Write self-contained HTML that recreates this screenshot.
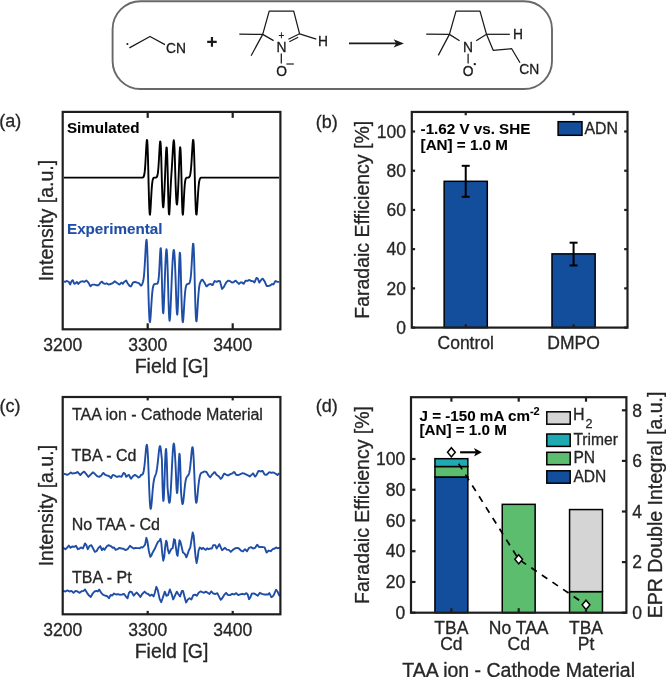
<!DOCTYPE html>
<html><head><meta charset="utf-8"><style>
html,body{margin:0;padding:0;background:#fff;overflow:hidden;}
svg{display:block;font-family:"Liberation Sans", sans-serif;will-change:transform;}
</style></head><body>
<svg width="666" height="677" viewBox="0 0 666 677">
<rect width="666" height="677" fill="#fff"/>
<rect x="112.6" y="1.2" width="439.4" height="87.8" rx="28" ry="28" fill="none" stroke="#68686c" stroke-width="1.9"/>
<circle cx="127.4" cy="44.0" r="1.05" fill="#1a1a1a"/>
<polyline points="129.40,47.90 150.00,36.50 165.00,44.60" fill="none" stroke="#1a1a1a" stroke-width="1.25" stroke-linejoin="round"/>
<text x="166.00" y="52.70" font-size="13.80" text-anchor="start" font-weight="normal" fill="#1a1a1a" stroke="#1a1a1a" stroke-width="0.30" >CN</text>
<path d="M207.2 41.8H216.7M211.95 36.9V46.7" stroke="#1a1a1a" stroke-width="2.2"/>
<polyline points="239.30,34.20 262.70,34.40 251.10,55.70" fill="none" stroke="#1a1a1a" stroke-width="1.25" stroke-linejoin="round"/>
<polyline points="273.60,40.60 262.70,34.40 269.20,11.20 293.70,11.20 299.60,33.80 316.30,39.20" fill="none" stroke="#1a1a1a" stroke-width="1.25" stroke-linejoin="round"/>
<polyline points="288.40,39.20 299.60,33.80" fill="none" stroke="#1a1a1a" stroke-width="1.25" stroke-linejoin="round"/>
<polyline points="289.30,41.80 298.20,37.30" fill="none" stroke="#1a1a1a" stroke-width="1.25" stroke-linejoin="round"/>
<text x="281.40" y="52.00" font-size="13.80" text-anchor="middle" font-weight="normal" fill="#1a1a1a" stroke="#1a1a1a" stroke-width="0.30" >N</text>
<text x="281.40" y="39.00" font-size="10.00" text-anchor="middle" font-weight="normal" fill="#1a1a1a" stroke="#1a1a1a" stroke-width="0.30" >+</text>
<polyline points="281.30,53.50 281.30,63.40" fill="none" stroke="#1a1a1a" stroke-width="1.25" stroke-linejoin="round"/>
<text x="281.60" y="76.00" font-size="13.80" text-anchor="middle" font-weight="normal" fill="#1a1a1a" stroke="#1a1a1a" stroke-width="0.30" >O</text>
<path d="M286.4 64.0H293.8" stroke="#1a1a1a" stroke-width="1.2"/>
<text x="318.00" y="45.80" font-size="13.80" text-anchor="start" font-weight="normal" fill="#1a1a1a" stroke="#1a1a1a" stroke-width="0.30" >H</text>
<path d="M349 43.4H396" stroke="#1a1a1a" stroke-width="1.6"/>
<path d="M403.9 43.4L393.6 39.3L396.2 43.4L393.6 47.6Z" fill="#1a1a1a"/>
<polyline points="426.20,34.20 449.40,34.40 438.30,55.40" fill="none" stroke="#1a1a1a" stroke-width="1.25" stroke-linejoin="round"/>
<polyline points="459.60,40.80 449.40,34.40 456.00,11.20 480.00,11.20 486.50,34.30 476.20,40.80" fill="none" stroke="#1a1a1a" stroke-width="1.25" stroke-linejoin="round"/>
<polyline points="486.50,34.30 509.80,34.30" fill="none" stroke="#1a1a1a" stroke-width="1.25" stroke-linejoin="round"/>
<polyline points="486.50,34.30 493.20,50.30 511.70,48.70 520.00,62.80" fill="none" stroke="#1a1a1a" stroke-width="1.25" stroke-linejoin="round"/>
<text x="468.00" y="52.10" font-size="13.80" text-anchor="middle" font-weight="normal" fill="#1a1a1a" stroke="#1a1a1a" stroke-width="0.30" >N</text>
<polyline points="468.10,53.70 468.10,63.60" fill="none" stroke="#1a1a1a" stroke-width="1.25" stroke-linejoin="round"/>
<text x="468.10" y="76.10" font-size="13.80" text-anchor="middle" font-weight="normal" fill="#1a1a1a" stroke="#1a1a1a" stroke-width="0.30" >O</text>
<circle cx="474.8" cy="64.1" r="1.2" fill="#1a1a1a"/>
<text x="513.00" y="39.40" font-size="13.80" text-anchor="start" font-weight="normal" fill="#1a1a1a" stroke="#1a1a1a" stroke-width="0.30" >H</text>
<text x="519.30" y="73.60" font-size="13.80" text-anchor="start" font-weight="normal" fill="#1a1a1a" stroke="#1a1a1a" stroke-width="0.30" >CN</text>
<text x="-0.80" y="127.30" font-size="18.00" text-anchor="start" font-weight="normal" fill="#262626" stroke="#262626" stroke-width="0.30" >(a)</text>
<text x="315.80" y="127.50" font-size="18.00" text-anchor="start" font-weight="normal" fill="#262626" stroke="#262626" stroke-width="0.30" >(b)</text>
<text x="-0.60" y="412.30" font-size="18.00" text-anchor="start" font-weight="normal" fill="#262626" stroke="#262626" stroke-width="0.30" >(c)</text>
<text x="315.80" y="412.30" font-size="18.00" text-anchor="start" font-weight="normal" fill="#262626" stroke="#262626" stroke-width="0.30" >(d)</text>
<path d="M63.90 177.60L64.25 177.60L64.60 177.60L64.95 177.60L65.30 177.60L65.65 177.60L66.00 177.60L66.35 177.60L66.70 177.60L67.05 177.60L67.40 177.60L67.75 177.60L68.10 177.60L68.45 177.60L68.80 177.60L69.15 177.60L69.50 177.60L69.85 177.60L70.20 177.60L70.55 177.60L70.90 177.60L71.25 177.60L71.60 177.60L71.95 177.60L72.30 177.60L72.65 177.60L73.00 177.60L73.35 177.60L73.70 177.60L74.05 177.60L74.40 177.60L74.75 177.60L75.10 177.60L75.45 177.60L75.80 177.60L76.15 177.60L76.50 177.60L76.85 177.60L77.20 177.60L77.55 177.60L77.90 177.60L78.25 177.60L78.60 177.60L78.95 177.60L79.30 177.60L79.65 177.60L80.00 177.60L80.35 177.60L80.70 177.60L81.05 177.60L81.40 177.60L81.75 177.60L82.10 177.60L82.45 177.60L82.80 177.60L83.15 177.60L83.50 177.60L83.85 177.60L84.20 177.60L84.55 177.60L84.90 177.60L85.25 177.60L85.60 177.60L85.95 177.60L86.30 177.60L86.65 177.60L87.00 177.60L87.35 177.60L87.70 177.60L88.05 177.60L88.40 177.60L88.75 177.60L89.10 177.60L89.45 177.60L89.80 177.60L90.15 177.60L90.50 177.60L90.85 177.60L91.20 177.60L91.55 177.60L91.90 177.60L92.25 177.60L92.60 177.60L92.95 177.60L93.30 177.60L93.65 177.60L94.00 177.60L94.35 177.60L94.70 177.60L95.05 177.60L95.40 177.60L95.75 177.60L96.10 177.60L96.45 177.60L96.80 177.60L97.15 177.60L97.50 177.60L97.85 177.60L98.20 177.60L98.55 177.60L98.90 177.60L99.25 177.60L99.60 177.60L99.95 177.60L100.30 177.60L100.65 177.60L101.00 177.60L101.35 177.60L101.70 177.60L102.05 177.60L102.40 177.60L102.75 177.60L103.10 177.60L103.45 177.60L103.80 177.60L104.15 177.60L104.50 177.60L104.85 177.60L105.20 177.60L105.55 177.60L105.90 177.60L106.25 177.60L106.60 177.60L106.95 177.60L107.30 177.60L107.65 177.60L108.00 177.60L108.35 177.60L108.70 177.60L109.05 177.60L109.40 177.60L109.75 177.60L110.10 177.60L110.45 177.60L110.80 177.60L111.15 177.60L111.50 177.60L111.85 177.60L112.20 177.60L112.55 177.60L112.90 177.60L113.25 177.60L113.60 177.60L113.95 177.60L114.30 177.60L114.65 177.60L115.00 177.60L115.35 177.60L115.70 177.60L116.05 177.60L116.40 177.60L116.75 177.60L117.10 177.60L117.45 177.60L117.80 177.60L118.15 177.60L118.50 177.60L118.85 177.60L119.20 177.60L119.55 177.60L119.90 177.60L120.25 177.60L120.60 177.60L120.95 177.60L121.30 177.60L121.65 177.60L122.00 177.60L122.35 177.60L122.70 177.60L123.05 177.60L123.40 177.60L123.75 177.60L124.10 177.60L124.45 177.60L124.80 177.60L125.15 177.60L125.50 177.60L125.85 177.60L126.20 177.60L126.55 177.60L126.90 177.60L127.25 177.60L127.60 177.60L127.95 177.60L128.30 177.60L128.65 177.60L129.00 177.60L129.35 177.60L129.70 177.60L130.05 177.60L130.40 177.60L130.75 177.60L131.10 177.60L131.45 177.60L131.80 177.60L132.15 177.60L132.50 177.60L132.85 177.60L133.20 177.60L133.55 177.60L133.90 177.60L134.25 177.60L134.60 177.60L134.95 177.60L135.30 177.60L135.65 177.60L136.00 177.60L136.35 177.60L136.70 177.60L137.05 177.60L137.40 177.60L137.75 177.60L138.10 177.60L138.45 177.60L138.80 177.60L139.15 177.60L139.50 177.60L139.85 177.60L140.20 177.60L140.55 177.60L140.90 177.60L141.25 177.60L141.60 177.60L141.95 177.59L142.30 177.57L142.65 177.52L143.00 177.40L143.35 177.15L143.70 176.64L144.05 175.70L144.40 174.07L144.75 171.44L145.10 167.57L145.45 162.36L145.80 156.06L146.15 149.36L146.50 143.50L146.85 139.99L147.20 140.35L147.55 145.52L147.90 155.48L148.25 169.04L148.60 183.93L148.95 197.59L149.30 207.96L149.65 213.74L150.00 214.73L150.35 211.75L150.70 206.22L151.05 199.68L151.40 193.38L151.75 188.09L152.10 184.11L152.45 181.37L152.80 179.65L153.15 178.64L153.50 178.10L153.85 177.82L154.20 177.69L154.55 177.64L154.90 177.61L155.25 177.59L155.60 177.57L155.95 177.51L156.30 177.39L156.65 177.14L157.00 176.63L157.35 175.70L157.70 174.09L158.05 171.53L158.40 167.78L158.75 162.77L159.10 156.74L159.45 150.36L159.80 144.79L160.15 141.47L160.50 141.81L160.85 146.70L161.20 156.12L161.55 168.99L161.90 182.29L162.25 193.31L162.60 201.76L162.95 206.52L163.30 207.35L163.65 204.72L164.00 199.51L164.35 192.65L164.70 184.77L165.05 176.25L165.40 167.41L165.75 158.84L166.10 151.65L166.45 147.46L166.80 147.87L167.15 153.75L167.50 164.56L167.85 178.39L168.20 194.63L168.55 207.22L168.90 213.92L169.25 214.39L169.60 209.93L169.95 202.67L170.30 194.66L170.65 187.24L171.00 180.85L171.35 175.28L171.70 169.97L172.05 164.42L172.40 158.41L172.75 152.16L173.10 146.34L173.45 141.99L173.80 140.30L174.15 142.25L174.50 148.31L174.85 158.19L175.20 170.78L175.55 182.58L175.90 191.85L176.25 199.09L176.60 203.43L176.95 204.57L177.30 202.68L177.65 198.27L178.00 191.92L178.35 184.14L178.70 175.41L179.05 166.28L179.40 157.63L179.75 150.76L180.10 147.20L180.45 148.32L180.80 154.65L181.15 165.49L181.50 179.08L181.85 194.51L182.20 206.65L182.55 213.52L182.90 214.69L183.25 211.21L183.60 204.91L183.95 197.75L184.30 191.20L184.65 186.03L185.00 182.42L185.35 180.14L185.70 178.84L186.05 178.16L186.40 177.84L186.75 177.69L187.10 177.63L187.45 177.60L187.80 177.58L188.15 177.55L188.50 177.49L188.85 177.37L189.20 177.12L189.55 176.66L189.90 175.84L190.25 174.48L190.60 172.36L190.95 169.27L191.30 165.08L191.65 159.85L192.00 153.90L192.35 147.90L192.70 142.85L193.05 139.92L193.40 140.21L193.75 144.45L194.10 152.69L194.45 164.22L194.80 177.60L195.15 190.74L195.50 202.05L195.85 210.14L196.20 214.30L196.55 214.58L196.90 211.71L197.25 206.75L197.60 200.87L197.95 195.03L198.30 189.89L198.65 185.78L199.00 182.74L199.35 180.66L199.70 179.33L200.05 178.53L200.40 178.07L200.75 177.83L201.10 177.70L201.45 177.65L201.80 177.62L202.15 177.61L202.50 177.60L202.85 177.60L203.20 177.60L203.55 177.60L203.90 177.60L204.25 177.60L204.60 177.60L204.95 177.60L205.30 177.60L205.65 177.60L206.00 177.60L206.35 177.60L206.70 177.60L207.05 177.60L207.40 177.60L207.75 177.60L208.10 177.60L208.45 177.60L208.80 177.60L209.15 177.60L209.50 177.60L209.85 177.60L210.20 177.60L210.55 177.60L210.90 177.60L211.25 177.60L211.60 177.60L211.95 177.60L212.30 177.60L212.65 177.60L213.00 177.60L213.35 177.60L213.70 177.60L214.05 177.60L214.40 177.60L214.75 177.60L215.10 177.60L215.45 177.60L215.80 177.60L216.15 177.60L216.50 177.60L216.85 177.60L217.20 177.60L217.55 177.60L217.90 177.60L218.25 177.60L218.60 177.60L218.95 177.60L219.30 177.60L219.65 177.60L220.00 177.60L220.35 177.60L220.70 177.60L221.05 177.60L221.40 177.60L221.75 177.60L222.10 177.60L222.45 177.60L222.80 177.60L223.15 177.60L223.50 177.60L223.85 177.60L224.20 177.60L224.55 177.60L224.90 177.60L225.25 177.60L225.60 177.60L225.95 177.60L226.30 177.60L226.65 177.60L227.00 177.60L227.35 177.60L227.70 177.60L228.05 177.60L228.40 177.60L228.75 177.60L229.10 177.60L229.45 177.60L229.80 177.60L230.15 177.60L230.50 177.60L230.85 177.60L231.20 177.60L231.55 177.60L231.90 177.60L232.25 177.60L232.60 177.60L232.95 177.60L233.30 177.60L233.65 177.60L234.00 177.60L234.35 177.60L234.70 177.60L235.05 177.60L235.40 177.60L235.75 177.60L236.10 177.60L236.45 177.60L236.80 177.60L237.15 177.60L237.50 177.60L237.85 177.60L238.20 177.60L238.55 177.60L238.90 177.60L239.25 177.60L239.60 177.60L239.95 177.60L240.30 177.60L240.65 177.60L241.00 177.60L241.35 177.60L241.70 177.60L242.05 177.60L242.40 177.60L242.75 177.60L243.10 177.60L243.45 177.60L243.80 177.60L244.15 177.60L244.50 177.60L244.85 177.60L245.20 177.60L245.55 177.60L245.90 177.60L246.25 177.60L246.60 177.60L246.95 177.60L247.30 177.60L247.65 177.60L248.00 177.60L248.35 177.60L248.70 177.60L249.05 177.60L249.40 177.60L249.75 177.60L250.10 177.60L250.45 177.60L250.80 177.60L251.15 177.60L251.50 177.60L251.85 177.60L252.20 177.60L252.55 177.60L252.90 177.60L253.25 177.60L253.60 177.60L253.95 177.60L254.30 177.60L254.65 177.60L255.00 177.60L255.35 177.60L255.70 177.60L256.05 177.60L256.40 177.60L256.75 177.60L257.10 177.60L257.45 177.60L257.80 177.60L258.15 177.60L258.50 177.60L258.85 177.60L259.20 177.60L259.55 177.60L259.90 177.60L260.25 177.60L260.60 177.60L260.95 177.60L261.30 177.60L261.65 177.60L262.00 177.60L262.35 177.60L262.70 177.60L263.05 177.60L263.40 177.60L263.75 177.60L264.10 177.60L264.45 177.60L264.80 177.60L265.15 177.60L265.50 177.60L265.85 177.60L266.20 177.60L266.55 177.60L266.90 177.60L267.25 177.60L267.60 177.60L267.95 177.60L268.30 177.60L268.65 177.60L269.00 177.60L269.35 177.60L269.70 177.60L270.05 177.60L270.40 177.60L270.75 177.60L271.10 177.60L271.45 177.60L271.80 177.60L272.15 177.60L272.50 177.60L272.85 177.60L273.20 177.60L273.55 177.60L273.90 177.60L274.25 177.60L274.60 177.60L274.95 177.60L275.30 177.60L275.65 177.60L276.00 177.60L276.35 177.60L276.70 177.60L277.05 177.60L277.40 177.60L277.75 177.60L278.10 177.60L278.45 177.60L278.80 177.60L279.15 177.60" fill="none" stroke="#000" stroke-width="1.9" stroke-linejoin="round"/>
<text x="66.90" y="133.20" font-size="15.20" text-anchor="start" font-weight="bold" fill="#000" stroke="#000" stroke-width="0.10" >Simulated</text>
<path d="M63.90 281.39L64.25 281.51L64.60 281.62L64.95 281.74L65.30 281.86L65.65 281.72L66.00 281.48L66.35 281.23L66.70 280.99L67.05 281.08L67.40 281.25L67.75 281.41L68.10 281.57L68.45 281.74L68.80 281.92L69.15 282.62L69.50 283.32L69.85 284.02L70.20 284.43L70.55 283.56L70.90 282.68L71.25 281.81L71.60 281.13L71.95 280.85L72.30 280.57L72.65 280.29L73.00 280.59L73.35 281.57L73.70 282.55L74.05 283.53L74.40 283.81L74.75 283.64L75.10 283.46L75.45 283.29L75.80 282.98L76.15 282.63L76.50 282.28L76.85 281.93L77.20 282.35L77.55 282.88L77.90 283.40L78.25 283.91L78.60 283.56L78.95 283.21L79.30 282.86L79.65 282.51L80.00 282.16L80.35 281.87L80.70 281.75L81.05 281.63L81.40 281.52L81.75 281.40L82.10 281.28L82.45 281.27L82.80 281.38L83.15 281.50L83.50 281.62L83.85 281.73L84.20 281.85L84.55 281.74L84.90 281.51L85.25 281.27L85.60 281.04L85.95 280.81L86.30 280.57L86.65 280.84L87.00 281.19L87.35 281.54L87.70 281.89L88.05 282.24L88.40 282.61L88.75 283.26L89.10 283.91L89.45 284.57L89.80 285.22L90.15 285.87L90.50 286.27L90.85 285.97L91.20 285.66L91.55 285.36L91.90 285.06L92.25 284.75L92.60 284.59L92.95 284.59L93.30 284.59L93.65 284.59L94.00 284.59L94.35 284.59L94.70 284.67L95.05 284.79L95.40 284.91L95.75 285.02L96.10 285.14L96.45 285.26L96.80 285.27L97.15 285.27L97.50 285.27L97.85 285.27L98.20 285.27L98.55 285.22L98.90 284.75L99.25 284.29L99.60 283.82L99.95 283.35L100.30 282.89L100.65 282.48L101.00 282.20L101.35 281.92L101.70 281.64L102.05 281.69L102.40 282.15L102.75 282.60L103.10 283.06L103.45 283.31L103.80 283.43L104.15 283.55L104.50 283.66L104.85 283.78L105.20 283.90L105.55 283.78L105.90 283.60L106.25 283.43L106.60 283.25L106.95 283.46L107.30 283.70L107.65 283.93L108.00 284.16L108.35 284.40L108.70 284.58L109.05 284.46L109.40 284.34L109.75 284.23L110.10 284.11L110.45 283.99L110.80 283.88L111.15 283.76L111.50 283.64L111.85 283.53L112.20 283.41L112.55 283.29L112.90 283.05L113.25 282.70L113.60 282.35L113.95 282.00L114.30 281.65L114.65 281.30L115.00 281.43L115.35 281.71L115.70 281.99L116.05 282.27L116.40 282.55L116.75 282.83L117.10 283.06L117.45 283.29L117.80 283.52L118.15 283.74L118.50 283.97L118.85 284.20L119.20 284.43L119.55 284.50L119.90 284.15L120.25 283.80L120.60 283.45L120.95 283.10L121.30 282.75L121.65 282.73L122.00 283.08L122.35 283.43L122.70 283.78L123.05 283.60L123.40 283.08L123.75 282.55L124.10 282.03L124.45 281.72L124.80 281.48L125.15 281.25L125.50 281.02L125.85 280.78L126.20 280.55L126.55 281.21L126.90 281.91L127.25 282.61L127.60 283.29L127.95 283.75L128.30 284.22L128.65 284.69L129.00 285.15L129.35 285.62L129.70 286.00L130.05 286.17L130.40 286.35L130.75 286.52L131.10 286.31L131.45 285.61L131.80 284.91L132.15 284.21L132.50 283.51L132.85 282.81L133.20 282.49L133.55 282.38L133.90 282.26L134.25 282.14L134.60 282.03L134.95 281.91L135.30 281.99L135.65 282.11L136.00 282.23L136.35 282.34L136.70 282.46L137.05 282.58L137.40 282.69L137.75 282.81L138.10 282.93L138.45 283.04L138.80 283.16L139.15 283.37L139.50 283.84L139.85 284.30L140.20 284.77L140.55 285.22L140.90 285.67L141.25 285.66L141.60 285.15L141.95 284.55L142.30 283.81L142.65 282.83L143.00 281.82L143.35 280.33L143.70 278.06L144.05 274.82L144.40 270.46L144.75 264.99L145.10 258.65L145.45 251.98L145.80 245.84L146.15 241.33L146.50 239.60L146.85 241.58L147.20 247.76L147.55 257.94L147.90 271.21L148.25 285.76L148.60 298.39L148.95 309.24L149.30 317.13L149.65 321.44L150.00 322.17L150.35 319.88L150.70 315.47L151.05 309.93L151.40 304.16L151.75 298.83L152.10 294.35L152.45 290.85L152.80 288.30L153.15 286.56L153.50 285.43L153.85 284.74L154.20 284.34L154.55 284.12L154.90 284.01L155.25 283.95L155.60 283.92L155.95 283.90L156.30 283.89L156.65 283.86L157.00 283.77L157.35 283.57L157.70 283.12L158.05 282.20L158.40 280.47L158.75 277.54L159.10 273.07L159.45 267.03L159.80 259.95L160.15 253.14L160.50 248.53L160.85 248.21L161.20 253.60L161.55 264.70L161.90 279.72L162.25 293.96L162.60 305.34L162.95 312.08L163.30 313.28L163.65 309.43L164.00 301.94L164.35 292.48L164.70 282.42L165.05 272.69L165.40 263.90L165.75 256.61L166.10 251.46L166.45 249.24L166.80 250.60L167.15 255.84L167.50 264.68L167.85 276.11L168.20 289.05L168.55 301.93L168.90 312.22L169.25 318.67L169.60 320.80L169.95 318.86L170.30 313.67L170.65 306.28L171.00 297.75L171.35 288.91L171.70 280.32L172.05 272.33L172.40 265.16L172.75 259.02L173.10 254.20L173.45 251.03L173.80 249.90L174.15 251.11L174.50 254.79L174.85 260.82L175.20 268.75L175.55 277.85L175.90 288.51L176.25 299.70L176.60 308.49L176.95 313.75L177.30 314.71L177.65 311.14L178.00 303.39L178.35 292.45L178.70 279.88L179.05 267.69L179.40 258.01L179.75 252.75L180.10 253.20L180.45 259.66L180.80 271.33L181.15 286.41L181.50 298.52L181.85 309.03L182.20 316.97L182.55 321.40L182.90 322.16L183.25 319.76L183.60 315.13L183.95 309.34L184.30 303.39L184.65 297.98L185.00 293.52L185.35 290.12L185.70 287.72L186.05 286.12L186.40 285.13L186.75 284.55L187.10 284.22L187.45 284.05L187.80 283.95L188.15 283.88L188.50 283.80L188.85 283.66L189.20 283.39L189.55 282.89L189.90 282.02L190.25 280.57L190.60 278.30L190.95 275.00L191.30 270.53L191.65 264.93L192.00 258.57L192.35 252.17L192.70 246.78L193.05 243.65L193.40 243.96L193.75 248.48L194.10 257.28L194.45 269.60L194.80 283.90L195.15 297.18L195.50 308.61L195.85 316.79L196.20 320.99L196.55 321.28L196.90 318.37L197.25 313.36L197.60 307.42L197.95 301.51L198.30 296.32L198.65 291.99L199.00 288.52L199.35 286.00L199.70 284.24L200.05 283.00L200.40 282.12L200.75 281.44L201.10 280.88L201.45 280.38L201.80 279.90L202.15 279.62L202.50 279.70L202.85 280.21L203.20 280.72L203.55 281.23L203.90 281.75L204.25 282.26L204.60 282.85L204.95 283.55L205.30 284.25L205.65 284.95L206.00 285.65L206.35 286.35L206.70 286.41L207.05 286.06L207.40 285.71L207.75 285.36L208.10 285.01L208.45 284.66L208.80 284.50L209.15 284.38L209.50 284.27L209.85 284.15L210.20 284.03L210.55 283.93L210.90 284.16L211.25 284.39L211.60 284.63L211.95 284.86L212.30 285.09L212.65 285.09L213.00 284.35L213.35 283.60L213.70 282.85L214.05 282.11L214.40 281.36L214.75 281.02L215.10 281.18L215.45 281.35L215.80 281.51L216.15 281.67L216.50 281.84L216.85 281.79L217.20 281.62L217.55 281.46L217.90 281.30L218.25 281.13L218.60 280.97L218.95 281.01L219.30 281.08L219.65 281.15L220.00 281.22L220.35 282.57L220.70 283.92L221.05 285.28L221.40 286.63L221.75 287.98L222.10 288.97L222.45 288.55L222.80 288.13L223.15 287.71L223.50 287.29L223.85 286.87L224.20 286.33L224.55 285.63L224.90 284.93L225.25 284.23L225.60 283.53L225.95 282.83L226.30 282.35L226.65 282.00L227.00 281.65L227.35 281.30L227.70 280.95L228.05 280.60L228.40 280.64L228.75 280.75L229.10 280.87L229.45 280.99L229.80 281.10L230.15 281.23L230.50 281.46L230.85 281.69L231.20 281.93L231.55 282.16L231.90 282.39L232.25 282.55L232.60 282.48L232.95 282.41L233.30 282.34L233.65 282.18L234.00 281.88L234.35 281.57L234.70 281.27L235.05 280.97L235.40 280.66L235.75 280.75L236.10 281.10L236.45 281.45L236.80 281.80L237.15 282.15L237.50 282.50L237.85 282.85L238.20 283.20L238.55 283.55L238.90 283.90L239.25 283.65L239.60 283.37L239.95 283.09L240.30 282.81L240.65 282.53L241.00 282.31L241.35 282.38L241.70 282.45L242.05 282.52L242.40 282.67L242.75 283.02L243.10 283.37L243.45 283.72L243.80 283.67L244.15 283.08L244.50 282.50L244.85 281.92L245.20 281.33L245.55 280.75L245.90 280.59L246.25 280.66L246.60 280.73L246.95 280.80L247.30 280.87L247.65 280.94L248.00 280.71L248.35 280.43L248.70 280.15L249.05 279.87L249.40 280.05L249.75 280.24L250.10 280.42L250.45 280.61L250.80 280.80L251.15 280.96L251.50 281.00L251.85 281.05L252.20 281.10L252.55 281.14L252.90 281.19L253.25 281.36L253.60 281.71L253.95 282.06L254.30 282.41L254.65 282.12L255.00 281.31L255.35 280.49L255.70 279.67L256.05 278.86L256.40 278.04L256.75 277.97L257.10 278.14L257.45 278.32L257.80 278.49L258.15 279.45L258.50 280.50L258.85 281.55L259.20 282.55L259.55 282.09L259.90 281.62L260.25 281.15L260.60 280.69L260.95 280.22L261.30 279.78L261.65 279.43L262.00 279.08L262.35 278.73L262.70 278.69L263.05 279.16L263.40 279.62L263.75 280.09L264.10 280.56L264.45 281.02L264.80 281.70L265.15 282.51L265.50 283.33L265.85 284.15L266.20 284.96L266.55 285.78L266.90 285.95L267.25 285.95L267.60 285.95L267.95 285.95L268.30 285.95L268.65 285.95L269.00 285.83L269.35 285.71L269.70 285.60L270.05 285.48L270.40 285.36L270.75 285.20L271.10 284.85L271.45 284.50L271.80 284.15L272.15 283.98L272.50 284.16L272.85 284.33L273.20 284.51L273.55 284.29L273.90 283.66L274.25 283.03L274.60 282.40L274.95 281.77L275.30 281.14L275.65 281.06L276.00 281.22L276.35 281.39L276.70 281.55L277.05 281.71L277.40 281.88L277.75 281.89L278.10 281.89L278.45 281.89L278.80 281.89L279.15 281.89" fill="none" stroke="#1f4ea6" stroke-width="1.9" stroke-linejoin="round"/>
<text x="67.00" y="234.00" font-size="15.20" text-anchor="start" font-weight="bold" fill="#1f4ea6" stroke="#1f4ea6" stroke-width="0.10" >Experimental</text>
<rect x="62.70" y="111.90" width="217.70" height="217.40" fill="none" stroke="#1e1e1e" stroke-width="2.20"/>
<line x1="147.70" y1="329.30" x2="147.70" y2="323.30" stroke="#1e1e1e" stroke-width="2.20" />
<line x1="147.70" y1="111.90" x2="147.70" y2="117.90" stroke="#1e1e1e" stroke-width="2.20" />
<line x1="232.70" y1="329.30" x2="232.70" y2="323.30" stroke="#1e1e1e" stroke-width="2.20" />
<line x1="232.70" y1="111.90" x2="232.70" y2="117.90" stroke="#1e1e1e" stroke-width="2.20" />
<text x="62.70" y="350.60" font-size="17.50" text-anchor="middle" font-weight="normal" fill="#262626" stroke="#262626" stroke-width="0.30" >3200</text>
<text x="147.70" y="350.60" font-size="17.50" text-anchor="middle" font-weight="normal" fill="#262626" stroke="#262626" stroke-width="0.30" >3300</text>
<text x="232.70" y="350.60" font-size="17.50" text-anchor="middle" font-weight="normal" fill="#262626" stroke="#262626" stroke-width="0.30" >3400</text>
<text x="171.55" y="372.50" font-size="19.50" text-anchor="middle" font-weight="normal" fill="#262626" stroke="#262626" stroke-width="0.30" >Field [G]</text>
<text transform="translate(52.80 220.60) rotate(-90)" font-size="19.50" text-anchor="middle" fill="#262626" stroke="#262626" stroke-width="0.30">Intensity [a.u.]</text>
<path d="M63.90 473.69L64.25 473.80L64.60 473.92L64.95 474.04L65.30 474.15L65.65 474.27L66.00 474.39L66.35 474.50L66.70 474.62L67.05 474.74L67.40 474.85L67.75 474.65L68.10 474.42L68.45 474.19L68.80 473.95L69.15 473.72L69.50 473.48L69.85 473.20L70.20 472.92L70.55 472.64L70.90 472.50L71.25 472.78L71.60 473.06L71.95 473.34L72.30 473.50L72.65 473.45L73.00 473.40L73.35 473.36L73.70 473.31L74.05 473.26L74.40 473.20L74.75 473.13L75.10 473.06L75.45 472.99L75.80 472.92L76.15 472.85L76.50 472.64L76.85 472.39L77.20 472.15L77.55 471.90L77.90 472.29L78.25 472.71L78.60 473.13L78.95 473.55L79.30 473.97L79.65 474.39L80.00 474.81L80.35 475.04L80.70 474.65L81.05 474.25L81.40 473.85L81.75 473.46L82.10 473.06L82.45 472.72L82.80 472.45L83.15 472.18L83.50 471.91L83.85 471.64L84.20 471.66L84.55 472.07L84.90 472.48L85.25 472.89L85.60 473.31L85.95 473.72L86.30 474.13L86.65 474.59L87.00 475.05L87.35 475.52L87.70 475.99L88.05 476.45L88.40 476.87L88.75 476.52L89.10 476.17L89.45 475.82L89.80 475.47L90.15 475.12L90.50 474.77L90.85 474.42L91.20 474.07L91.55 473.72L91.90 473.37L92.25 473.02L92.60 472.67L92.95 472.32L93.30 472.35L93.65 472.70L94.00 473.05L94.35 473.40L94.70 473.75L95.05 474.10L95.40 474.45L95.75 474.80L96.10 475.15L96.45 475.50L96.80 475.85L97.15 476.20L97.50 476.33L97.85 476.45L98.20 476.56L98.55 476.68L98.90 476.80L99.25 476.85L99.60 476.62L99.95 476.38L100.30 476.15L100.65 475.92L101.00 475.68L101.35 475.36L101.70 474.90L102.05 474.43L102.40 473.96L102.75 473.50L103.10 473.03L103.45 473.04L103.80 473.39L104.15 473.74L104.50 474.09L104.85 474.44L105.20 474.79L105.55 474.96L105.90 475.07L106.25 475.19L106.60 475.31L106.95 475.42L107.30 475.54L107.65 475.66L108.00 475.77L108.35 475.89L108.70 476.01L109.05 476.12L109.40 476.30L109.75 476.71L110.10 477.11L110.45 477.52L110.80 477.92L111.15 478.10L111.50 477.37L111.85 476.64L112.20 475.91L112.55 475.18L112.90 474.93L113.25 475.05L113.60 475.16L113.95 475.28L114.30 475.40L114.65 475.51L115.00 475.72L115.35 475.95L115.70 476.19L116.05 476.42L116.40 476.65L116.75 476.89L117.10 476.81L117.45 476.72L117.80 476.63L118.15 476.54L118.50 476.46L118.85 476.37L119.20 476.28L119.55 476.25L119.90 476.36L120.25 476.48L120.60 476.60L120.95 476.71L121.30 476.83L121.65 476.56L122.00 475.86L122.35 475.16L122.70 474.46L123.05 473.76L123.40 473.06L123.75 472.96L124.10 473.13L124.45 473.31L124.80 473.48L125.15 474.23L125.50 475.10L125.85 475.98L126.20 476.85L126.55 476.56L126.90 476.21L127.25 475.86L127.60 475.52L127.95 475.35L128.30 475.17L128.65 475.00L129.00 475.03L129.35 475.73L129.70 476.43L130.05 477.13L130.40 477.83L130.75 478.53L131.10 478.71L131.45 478.25L131.80 477.78L132.15 477.31L132.50 476.85L132.85 476.38L133.20 476.06L133.55 475.83L133.90 475.60L134.25 475.36L134.60 475.13L134.95 474.90L135.30 475.06L135.65 475.30L136.00 475.53L136.35 475.76L136.70 476.00L137.05 476.24L137.40 476.59L137.75 476.94L138.10 477.29L138.45 477.53L138.80 477.36L139.15 477.18L139.50 477.00L139.85 476.70L140.20 476.17L140.55 475.63L140.90 475.07L141.25 474.81L141.60 474.85L141.95 474.82L142.30 474.66L142.65 474.34L143.00 473.67L143.35 472.61L143.70 471.09L144.05 469.03L144.40 466.35L144.75 463.08L145.10 459.30L145.45 455.21L145.80 451.22L146.15 447.81L146.50 445.50L146.85 444.82L147.20 446.19L147.55 449.80L147.90 455.61L148.25 463.24L148.60 472.05L148.95 481.53L149.30 490.70L149.65 498.51L150.00 504.31L150.35 507.79L150.70 508.90L151.05 507.91L151.40 505.27L151.75 501.55L152.10 497.30L152.45 493.00L152.80 489.01L153.15 485.56L153.50 482.73L153.85 480.51L154.20 478.83L154.55 477.55L154.90 476.54L155.25 475.66L155.60 474.77L155.95 473.73L156.30 472.44L156.65 470.79L157.00 468.71L157.35 466.16L157.70 463.17L158.05 459.84L158.40 456.33L158.75 452.90L159.10 449.86L159.45 447.53L159.80 446.21L160.15 446.12L160.50 447.32L160.85 449.68L161.20 452.86L161.55 456.34L161.90 459.46L162.25 474.73L162.60 487.84L162.95 496.84L163.30 500.89L163.65 499.84L164.00 494.24L164.35 485.28L164.70 474.60L165.05 464.02L165.40 455.32L165.75 449.99L166.10 448.99L166.45 452.73L166.80 460.97L167.15 472.91L167.50 486.77L167.85 490.55L168.20 494.67L168.55 498.43L168.90 501.27L169.25 502.75L169.60 502.62L169.95 500.82L170.30 497.39L170.65 492.53L171.00 486.51L171.35 479.67L171.70 472.40L172.05 465.12L172.40 458.27L172.75 452.29L173.10 447.62L173.45 444.63L173.80 443.60L174.15 444.65L174.50 447.71L174.85 452.50L175.20 458.50L175.55 464.97L175.90 472.63L176.25 482.27L176.60 489.33L176.95 492.94L177.30 492.66L177.65 488.64L178.00 481.63L178.35 472.92L178.70 464.20L179.05 457.29L179.40 453.79L179.75 454.85L180.10 460.87L180.45 471.40L180.80 485.26L181.15 493.37L181.50 497.26L181.85 500.71L182.20 503.11L182.55 504.08L182.90 503.56L183.25 501.68L183.60 498.79L183.95 495.30L184.30 491.63L184.65 488.12L185.00 485.01L185.35 482.43L185.70 480.41L186.05 478.90L186.40 477.82L186.75 477.07L187.10 476.55L187.45 476.16L187.80 475.81L188.15 475.40L188.50 474.86L188.85 474.07L189.20 472.92L189.55 471.31L189.90 469.15L190.25 466.39L190.60 463.06L190.95 459.31L191.30 455.39L191.65 451.72L192.00 448.80L192.35 447.18L192.70 447.33L193.05 449.60L193.40 454.09L193.75 460.57L194.10 468.54L194.45 477.17L194.80 485.13L195.15 492.20L195.50 497.72L195.85 501.30L196.20 502.82L196.55 502.46L196.90 500.55L197.25 497.59L197.60 494.08L197.95 490.46L198.30 486.85L198.65 483.66L199.00 481.00L199.35 478.79L199.70 477.00L200.05 475.55L200.40 474.36L200.75 473.61L201.10 473.14L201.45 472.88L201.80 472.69L202.15 472.53L202.50 472.39L202.85 472.26L203.20 472.12L203.55 471.94L203.90 471.77L204.25 471.59L204.60 471.51L204.95 471.58L205.30 471.65L205.65 471.72L206.00 471.79L206.35 471.86L206.70 472.28L207.05 472.91L207.40 473.54L207.75 474.17L208.10 474.80L208.45 475.43L208.80 475.85L209.15 476.23L209.50 476.61L209.85 476.99L210.20 477.21L210.55 476.72L210.90 476.24L211.25 475.75L211.60 475.27L211.95 474.80L212.30 474.42L212.65 474.03L213.00 473.65L213.35 473.26L213.70 472.88L214.05 472.49L214.40 472.11L214.75 472.12L215.10 472.63L215.45 473.15L215.80 473.66L216.15 474.17L216.50 474.69L216.85 475.02L217.20 475.25L217.55 475.48L217.90 475.72L218.25 475.95L218.60 476.18L218.95 476.62L219.30 477.08L219.65 477.55L220.00 478.02L220.35 478.48L220.70 478.89L221.05 478.54L221.40 478.19L221.75 477.84L222.10 477.42L222.45 476.72L222.80 476.02L223.15 475.32L223.50 474.62L223.85 473.92L224.20 473.59L224.55 473.78L224.90 473.96L225.25 474.15L225.60 474.34L225.95 474.52L226.30 474.70L226.65 474.86L227.00 475.02L227.35 475.19L227.70 475.35L228.05 475.51L228.40 475.35L228.75 475.11L229.10 474.88L229.45 474.65L229.80 474.41L230.15 474.18L230.50 474.07L230.85 473.95L231.20 473.83L231.55 473.72L231.90 473.60L232.25 473.44L232.60 473.16L232.95 472.88L233.30 472.60L233.65 472.32L234.00 472.04L234.35 472.13L234.70 472.64L235.05 473.15L235.40 473.67L235.75 474.18L236.10 474.69L236.45 474.90L236.80 474.94L237.15 474.99L237.50 475.04L237.85 475.08L238.20 475.13L238.55 474.99L238.90 474.83L239.25 474.67L239.60 474.50L239.95 474.34L240.30 474.18L240.65 474.01L241.00 473.85L241.35 473.69L241.70 473.52L242.05 473.36L242.40 473.26L242.75 473.30L243.10 473.35L243.45 473.40L243.80 473.44L244.15 473.49L244.50 473.61L244.85 473.79L245.20 473.98L245.55 474.17L245.90 474.35L246.25 474.54L246.60 474.71L246.95 474.87L247.30 475.04L247.65 475.20L248.00 475.36L248.35 475.53L248.70 475.77L249.05 476.01L249.40 476.26L249.75 476.47L250.10 476.14L250.45 475.81L250.80 475.49L251.15 475.16L251.50 474.83L251.85 474.50L252.20 474.15L252.55 473.80L252.90 473.45L253.25 473.50L253.60 474.13L253.95 474.76L254.30 475.39L254.65 476.02L255.00 476.65L255.35 476.57L255.70 476.04L256.05 475.52L256.40 474.99L256.75 474.34L257.10 473.64L257.45 472.94L257.80 472.24L258.15 471.54L258.50 470.84L258.85 470.92L259.20 471.04L259.55 471.16L259.90 471.27L260.25 471.39L260.60 471.47L260.95 471.35L261.30 471.23L261.65 471.12L262.00 471.00L262.35 470.88L262.70 471.06L263.05 471.71L263.40 472.36L263.75 473.02L264.10 473.67L264.45 474.32L264.80 474.62L265.15 474.67L265.50 474.72L265.85 474.76L266.20 474.81L266.55 474.86L266.90 474.59L267.25 474.24L267.60 473.89L267.95 473.54L268.30 473.19L268.65 472.84L269.00 472.49L269.35 472.17L269.70 472.29L270.05 472.40L270.40 472.52L270.75 472.64L271.10 472.75L271.45 472.82L271.80 472.75L272.15 472.68L272.50 472.61L272.85 472.54L273.20 472.47L273.55 472.52L273.90 472.71L274.25 472.90L274.60 473.08L274.95 473.27L275.30 473.46L275.65 473.71L276.00 473.99L276.35 474.27L276.70 474.55L277.05 474.83L277.40 475.11L277.75 474.78L278.10 474.38L278.45 473.98L278.80 473.59L279.15 473.19" fill="none" stroke="#1f4ea6" stroke-width="1.9" stroke-linejoin="round"/>
<polyline points="63.70,547.84 63.38,547.84 65.41,549.19 67.03,547.84 68.78,545.54 70.54,547.84 72.16,546.49 74.19,546.89 75.95,545.81 77.84,549.19 79.59,548.51 81.35,547.43 82.97,548.51 85.00,543.38 86.35,545.14 87.70,549.19 89.73,545.81 91.35,545.14 93.11,548.51 94.86,551.89 96.49,551.22 98.51,547.84 100.27,546.08 101.89,550.14 103.24,548.24 104.59,549.86 106.62,546.49 108.65,545.14 110.68,546.08 112.70,547.84 114.05,547.43 115.68,549.86 117.43,549.19 119.46,547.84 121.49,548.51 123.51,548.78 125.54,550.14 127.57,549.19 130.00,545.81 131.62,547.16 133.65,548.51 135.68,547.84 137.70,548.11 139.73,548.24 141.08,547.16 142.43,547.43 142.44,547.57 143.90,546.10 145.08,544.64 146.34,537.81 147.32,540.74 148.78,550.50 150.25,556.84 151.22,555.86 152.69,552.45 154.64,549.03 156.59,544.64 158.06,541.71 159.52,540.74 160.50,538.78 161.28,542.69 162.25,553.42 163.23,560.74 164.20,557.33 165.18,546.59 166.16,540.74 166.84,542.20 167.82,549.52 169.08,553.42 170.26,550.98 171.23,549.03 172.70,548.06 173.96,539.27 174.94,539.76 175.92,547.57 176.89,554.40 177.58,555.86 178.55,547.57 179.53,540.25 180.21,541.22 181.48,546.10 182.94,552.45 184.41,553.42 185.38,554.89 186.36,557.33 187.34,554.89 188.80,550.50 190.26,547.57 191.53,539.76 192.70,532.44 193.68,535.86 194.66,547.08 195.63,557.33 196.61,563.18 197.58,558.30 198.56,550.50 199.73,547.57 200.41,547.84 201.00,548.06 201.76,549.19 203.11,547.84 204.46,549.19 205.81,549.86 207.16,548.24 208.51,549.19 210.54,548.51 211.89,548.51 213.24,545.14 215.27,545.14 216.62,548.51 217.97,546.49 219.32,544.19 220.68,547.16 222.03,550.14 223.38,549.19 224.73,547.84 226.76,549.59 228.78,549.86 230.81,551.89 232.84,549.86 234.86,548.51 236.89,547.84 238.92,548.51 240.95,550.54 242.97,551.49 245.00,549.19 247.03,551.22 249.05,547.84 251.08,547.16 253.11,548.51 255.14,547.84 257.16,544.73 259.19,547.16 261.22,546.89 263.24,547.16 264.59,547.43 266.62,552.57 268.65,550.54 270.68,551.22 272.70,549.19 274.73,548.51 276.08,547.43 277.70,548.24 279.46,547.84 279.40,547.84" fill="none" stroke="#1f4ea6" stroke-width="1.90" stroke-linejoin="round"/>
<polyline points="63.70,590.84 63.38,590.84 65.41,591.51 67.43,590.43 69.46,591.51 71.49,590.84 73.51,592.86 75.54,590.84 77.57,591.51 79.59,592.86 81.62,591.24 83.65,590.84 85.00,589.49 87.03,592.86 89.05,595.57 90.81,596.92 92.43,593.95 94.46,591.51 96.49,590.84 97.84,591.51 99.19,589.49 101.22,592.86 103.24,594.89 105.27,595.57 107.30,596.24 108.92,598.27 110.68,594.89 112.03,595.57 114.05,593.54 116.08,594.49 118.11,594.22 120.14,594.89 122.16,594.49 124.19,593.95 126.22,596.92 127.57,598.27 128.92,592.86 130.27,591.51 131.89,592.19 133.65,595.57 135.00,594.02 136.80,592.58 138.60,594.62 140.41,597.03 142.21,594.02 144.61,591.62 146.41,593.42 148.21,594.02 150.02,595.83 151.82,594.62 153.62,596.43 154.82,592.82 156.38,586.82 157.82,590.42 159.62,598.83 161.19,602.19 162.63,598.23 164.79,591.62 166.47,595.83 168.03,595.23 169.83,589.46 171.64,594.02 173.20,599.43 174.64,596.43 176.80,591.62 178.24,594.02 180.05,596.43 181.85,591.02 183.05,591.02 184.25,595.83 186.05,602.43 187.85,599.43 189.65,598.23 191.46,599.43 193.26,595.23 195.06,594.62 196.86,595.83 198.66,592.82 200.47,591.38 202.27,592.22 204.07,592.82 205.87,591.62 207.67,592.82 209.47,594.02 211.28,591.38 213.08,593.42 215.00,594.02 217.30,593.11 219.32,597.16 220.68,599.86 222.03,598.51 224.05,595.14 226.08,592.84 228.11,595.14 230.14,595.14 232.16,593.78 234.19,594.46 236.22,593.11 238.24,595.14 240.27,594.46 242.30,593.78 244.32,594.46 246.35,593.11 247.70,594.46 249.05,599.19 250.41,597.16 251.76,593.78 253.78,593.38 255.81,594.46 257.84,595.81 259.86,592.84 261.89,593.78 263.92,594.46 265.95,594.46 267.97,594.46 269.32,593.11 271.35,597.16 272.70,596.49 274.05,594.46 276.08,589.73 277.70,591.76 279.46,595.81 279.40,595.81" fill="none" stroke="#1f4ea6" stroke-width="1.90" stroke-linejoin="round"/>
<text x="72.00" y="420.40" font-size="16.00" text-anchor="start" font-weight="normal" fill="#262626" stroke="#262626" stroke-width="0.30" >TAA ion - Cathode Material</text>
<text x="71.60" y="461.00" font-size="16.00" text-anchor="start" font-weight="normal" fill="#262626" stroke="#262626" stroke-width="0.30" >TBA - Cd</text>
<text x="71.70" y="529.50" font-size="16.00" text-anchor="start" font-weight="normal" fill="#262626" stroke="#262626" stroke-width="0.30" >No TAA - Cd</text>
<text x="72.00" y="582.90" font-size="16.00" text-anchor="start" font-weight="normal" fill="#262626" stroke="#262626" stroke-width="0.30" >TBA - Pt</text>
<rect x="62.70" y="397.00" width="217.70" height="217.30" fill="none" stroke="#1e1e1e" stroke-width="2.20"/>
<line x1="147.70" y1="614.30" x2="147.70" y2="610.90" stroke="#1e1e1e" stroke-width="2.20" />
<line x1="147.70" y1="397.00" x2="147.70" y2="400.40" stroke="#1e1e1e" stroke-width="2.20" />
<line x1="232.70" y1="614.30" x2="232.70" y2="610.90" stroke="#1e1e1e" stroke-width="2.20" />
<line x1="232.70" y1="397.00" x2="232.70" y2="400.40" stroke="#1e1e1e" stroke-width="2.20" />
<text x="62.70" y="635.60" font-size="17.50" text-anchor="middle" font-weight="normal" fill="#262626" stroke="#262626" stroke-width="0.30" >3200</text>
<text x="147.70" y="635.60" font-size="17.50" text-anchor="middle" font-weight="normal" fill="#262626" stroke="#262626" stroke-width="0.30" >3300</text>
<text x="232.70" y="635.60" font-size="17.50" text-anchor="middle" font-weight="normal" fill="#262626" stroke="#262626" stroke-width="0.30" >3400</text>
<text x="171.55" y="657.50" font-size="19.50" text-anchor="middle" font-weight="normal" fill="#262626" stroke="#262626" stroke-width="0.30" >Field [G]</text>
<text transform="translate(52.80 505.65) rotate(-90)" font-size="19.50" text-anchor="middle" fill="#262626" stroke="#262626" stroke-width="0.30">Intensity [a.u.]</text>
<rect x="444.15" y="181.31" width="43.15" height="146.29" fill="#134e9c" stroke="#000" stroke-width="1.5"/>
<line x1="465.73" y1="165.82" x2="465.73" y2="196.80" stroke="#000" stroke-width="2.00" />
<line x1="461.73" y1="165.82" x2="469.73" y2="165.82" stroke="#000" stroke-width="2.00" />
<line x1="461.73" y1="196.80" x2="469.73" y2="196.80" stroke="#000" stroke-width="2.00" />
<rect x="552.00" y="253.87" width="43.15" height="73.73" fill="#134e9c" stroke="#000" stroke-width="1.5"/>
<line x1="573.58" y1="242.69" x2="573.58" y2="265.44" stroke="#000" stroke-width="2.00" />
<line x1="569.58" y1="242.69" x2="577.58" y2="242.69" stroke="#000" stroke-width="2.00" />
<line x1="569.58" y1="265.44" x2="577.58" y2="265.44" stroke="#000" stroke-width="2.00" />
<rect x="411.80" y="111.95" width="215.70" height="215.65" fill="none" stroke="#1e1e1e" stroke-width="2.20"/>
<line x1="411.80" y1="327.60" x2="415.10" y2="327.60" stroke="#1e1e1e" stroke-width="2.20" />
<line x1="627.50" y1="327.60" x2="624.20" y2="327.60" stroke="#1e1e1e" stroke-width="2.20" />
<text x="406.00" y="333.80" font-size="17.50" text-anchor="end" font-weight="normal" fill="#262626" stroke="#262626" stroke-width="0.30" >0</text>
<line x1="411.80" y1="288.38" x2="415.10" y2="288.38" stroke="#1e1e1e" stroke-width="2.20" />
<line x1="627.50" y1="288.38" x2="624.20" y2="288.38" stroke="#1e1e1e" stroke-width="2.20" />
<text x="406.00" y="294.58" font-size="17.50" text-anchor="end" font-weight="normal" fill="#262626" stroke="#262626" stroke-width="0.30" >20</text>
<line x1="411.80" y1="249.16" x2="415.10" y2="249.16" stroke="#1e1e1e" stroke-width="2.20" />
<line x1="627.50" y1="249.16" x2="624.20" y2="249.16" stroke="#1e1e1e" stroke-width="2.20" />
<text x="406.00" y="255.36" font-size="17.50" text-anchor="end" font-weight="normal" fill="#262626" stroke="#262626" stroke-width="0.30" >40</text>
<line x1="411.80" y1="209.94" x2="415.10" y2="209.94" stroke="#1e1e1e" stroke-width="2.20" />
<line x1="627.50" y1="209.94" x2="624.20" y2="209.94" stroke="#1e1e1e" stroke-width="2.20" />
<text x="406.00" y="216.14" font-size="17.50" text-anchor="end" font-weight="normal" fill="#262626" stroke="#262626" stroke-width="0.30" >60</text>
<line x1="411.80" y1="170.72" x2="415.10" y2="170.72" stroke="#1e1e1e" stroke-width="2.20" />
<line x1="627.50" y1="170.72" x2="624.20" y2="170.72" stroke="#1e1e1e" stroke-width="2.20" />
<text x="406.00" y="176.92" font-size="17.50" text-anchor="end" font-weight="normal" fill="#262626" stroke="#262626" stroke-width="0.30" >80</text>
<line x1="411.80" y1="131.50" x2="415.10" y2="131.50" stroke="#1e1e1e" stroke-width="2.20" />
<line x1="627.50" y1="131.50" x2="624.20" y2="131.50" stroke="#1e1e1e" stroke-width="2.20" />
<text x="406.00" y="137.70" font-size="17.50" text-anchor="end" font-weight="normal" fill="#262626" stroke="#262626" stroke-width="0.30" >100</text>
<line x1="465.73" y1="327.60" x2="465.73" y2="324.30" stroke="#1e1e1e" stroke-width="2.20" />
<line x1="465.73" y1="111.95" x2="465.73" y2="115.25" stroke="#1e1e1e" stroke-width="2.20" />
<line x1="573.58" y1="327.60" x2="573.58" y2="324.30" stroke="#1e1e1e" stroke-width="2.20" />
<line x1="573.58" y1="111.95" x2="573.58" y2="115.25" stroke="#1e1e1e" stroke-width="2.20" />
<text x="465.73" y="348.80" font-size="17.50" text-anchor="middle" font-weight="normal" fill="#262626" stroke="#262626" stroke-width="0.30" >Control</text>
<text x="573.58" y="348.80" font-size="17.50" text-anchor="middle" font-weight="normal" fill="#262626" stroke="#262626" stroke-width="0.30" >DMPO</text>
<text transform="translate(369.20 219.78) rotate(-90)" font-size="19.50" text-anchor="middle" fill="#262626" stroke="#262626" stroke-width="0.30">Faradaic Efficiency [%]</text>
<text x="420.60" y="133.60" font-size="15.20" text-anchor="start" font-weight="bold" fill="#000" stroke="#000" stroke-width="0.10" >-1.62 V vs. SHE</text>
<text x="420.60" y="150.00" font-size="15.20" text-anchor="start" font-weight="bold" fill="#000" stroke="#000" stroke-width="0.10" >[AN] = 1.0 M</text>
<rect x="558.1" y="121.7" width="23.9" height="13.6" fill="#134e9c" stroke="#000" stroke-width="1.5"/>
<text x="584.50" y="134.00" font-size="15.90" text-anchor="start" font-weight="normal" fill="#262626" stroke="#262626" stroke-width="0.30" >ADN</text>
<rect x="434.94" y="476.98" width="32.90" height="135.72" fill="#134e9c" stroke="#000" stroke-width="1.5"/>
<rect x="434.94" y="466.53" width="32.90" height="10.45" fill="#5dbd6e" stroke="#000" stroke-width="1.5"/>
<rect x="434.94" y="458.69" width="32.90" height="7.84" fill="#1ea9b3" stroke="#000" stroke-width="1.5"/>
<rect x="502.25" y="504.34" width="32.90" height="108.36" fill="#5dbd6e" stroke="#000" stroke-width="1.5"/>
<rect x="569.56" y="591.64" width="32.90" height="21.06" fill="#5dbd6e" stroke="#000" stroke-width="1.5"/>
<rect x="569.56" y="509.57" width="32.90" height="82.08" fill="#d5d5d5" stroke="#000" stroke-width="1.5"/>
<polyline points="455.65,459.07 518.70,559.32 586.01,604.86" fill="none" stroke="#000" stroke-width="1.7" stroke-dasharray="6.6 6.2" stroke-dashoffset="7.2"/>
<path d="M451.39 447.70L455.24 452.30L451.39 456.90L447.54 452.30Z" fill="#fff" stroke="#000" stroke-width="1.5" stroke-linejoin="miter"/>
<path d="M518.70 554.72L522.55 559.32L518.70 563.92L514.85 559.32Z" fill="#fff" stroke="#000" stroke-width="1.5" stroke-linejoin="miter"/>
<path d="M586.01 600.26L589.86 604.86L586.01 609.46L582.16 604.86Z" fill="#fff" stroke="#000" stroke-width="1.5" stroke-linejoin="miter"/>
<path d="M460.1 452.3H476" stroke="#000" stroke-width="2.1"/>
<path d="M481.8 452.3L474.0 448.1L476.0 452.3L474.0 456.5Z" fill="#000"/>
<rect x="411.00" y="397.20" width="215.40" height="215.50" fill="none" stroke="#1e1e1e" stroke-width="2.20"/>
<line x1="411.00" y1="612.70" x2="415.50" y2="612.70" stroke="#1e1e1e" stroke-width="2.20" />
<text x="405.20" y="618.90" font-size="17.50" text-anchor="end" font-weight="normal" fill="#262626" stroke="#262626" stroke-width="0.30" >0</text>
<line x1="411.00" y1="581.96" x2="415.50" y2="581.96" stroke="#1e1e1e" stroke-width="2.20" />
<text x="405.20" y="588.16" font-size="17.50" text-anchor="end" font-weight="normal" fill="#262626" stroke="#262626" stroke-width="0.30" >20</text>
<line x1="411.00" y1="551.22" x2="415.50" y2="551.22" stroke="#1e1e1e" stroke-width="2.20" />
<text x="405.20" y="557.42" font-size="17.50" text-anchor="end" font-weight="normal" fill="#262626" stroke="#262626" stroke-width="0.30" >40</text>
<line x1="411.00" y1="520.48" x2="415.50" y2="520.48" stroke="#1e1e1e" stroke-width="2.20" />
<text x="405.20" y="526.68" font-size="17.50" text-anchor="end" font-weight="normal" fill="#262626" stroke="#262626" stroke-width="0.30" >60</text>
<line x1="411.00" y1="489.74" x2="415.50" y2="489.74" stroke="#1e1e1e" stroke-width="2.20" />
<text x="405.20" y="495.94" font-size="17.50" text-anchor="end" font-weight="normal" fill="#262626" stroke="#262626" stroke-width="0.30" >80</text>
<line x1="411.00" y1="459.00" x2="415.50" y2="459.00" stroke="#1e1e1e" stroke-width="2.20" />
<text x="405.20" y="465.20" font-size="17.50" text-anchor="end" font-weight="normal" fill="#262626" stroke="#262626" stroke-width="0.30" >100</text>
<line x1="626.40" y1="612.70" x2="621.90" y2="612.70" stroke="#1e1e1e" stroke-width="2.20" />
<text x="632.20" y="618.90" font-size="17.50" text-anchor="start" font-weight="normal" fill="#262626" stroke="#262626" stroke-width="0.30" >0</text>
<line x1="626.40" y1="562.10" x2="621.90" y2="562.10" stroke="#1e1e1e" stroke-width="2.20" />
<text x="632.20" y="568.30" font-size="17.50" text-anchor="start" font-weight="normal" fill="#262626" stroke="#262626" stroke-width="0.30" >2</text>
<line x1="626.40" y1="511.50" x2="621.90" y2="511.50" stroke="#1e1e1e" stroke-width="2.20" />
<text x="632.20" y="517.70" font-size="17.50" text-anchor="start" font-weight="normal" fill="#262626" stroke="#262626" stroke-width="0.30" >4</text>
<line x1="626.40" y1="460.90" x2="621.90" y2="460.90" stroke="#1e1e1e" stroke-width="2.20" />
<text x="632.20" y="467.10" font-size="17.50" text-anchor="start" font-weight="normal" fill="#262626" stroke="#262626" stroke-width="0.30" >6</text>
<line x1="626.40" y1="410.30" x2="621.90" y2="410.30" stroke="#1e1e1e" stroke-width="2.20" />
<text x="632.20" y="416.50" font-size="17.50" text-anchor="start" font-weight="normal" fill="#262626" stroke="#262626" stroke-width="0.30" >8</text>
<line x1="451.39" y1="612.70" x2="451.39" y2="608.20" stroke="#1e1e1e" stroke-width="2.20" />
<line x1="451.39" y1="397.20" x2="451.39" y2="401.70" stroke="#1e1e1e" stroke-width="2.20" />
<line x1="518.70" y1="612.70" x2="518.70" y2="608.20" stroke="#1e1e1e" stroke-width="2.20" />
<line x1="518.70" y1="397.20" x2="518.70" y2="401.70" stroke="#1e1e1e" stroke-width="2.20" />
<line x1="586.01" y1="612.70" x2="586.01" y2="608.20" stroke="#1e1e1e" stroke-width="2.20" />
<line x1="586.01" y1="397.20" x2="586.01" y2="401.70" stroke="#1e1e1e" stroke-width="2.20" />
<text x="451.39" y="633.70" font-size="17.50" text-anchor="middle" font-weight="normal" fill="#262626" stroke="#262626" stroke-width="0.30" >TBA</text>
<text x="451.39" y="650.30" font-size="17.50" text-anchor="middle" font-weight="normal" fill="#262626" stroke="#262626" stroke-width="0.30" >Cd</text>
<text x="518.70" y="633.70" font-size="17.50" text-anchor="middle" font-weight="normal" fill="#262626" stroke="#262626" stroke-width="0.30" >No TAA</text>
<text x="518.70" y="650.30" font-size="17.50" text-anchor="middle" font-weight="normal" fill="#262626" stroke="#262626" stroke-width="0.30" >Cd</text>
<text x="586.01" y="633.70" font-size="17.50" text-anchor="middle" font-weight="normal" fill="#262626" stroke="#262626" stroke-width="0.30" >TBA</text>
<text x="586.01" y="650.30" font-size="17.50" text-anchor="middle" font-weight="normal" fill="#262626" stroke="#262626" stroke-width="0.30" >Pt</text>
<text x="518.70" y="676.60" font-size="19.50" text-anchor="middle" font-weight="normal" fill="#262626" stroke="#262626" stroke-width="0.30" >TAA ion - Cathode Material</text>
<text transform="translate(369.20 504.95) rotate(-90)" font-size="19.50" text-anchor="middle" fill="#262626" stroke="#262626" stroke-width="0.30">Faradaic Efficiency [%]</text>
<text transform="translate(661.70 504.95) rotate(-90)" font-size="19.50" text-anchor="middle" fill="#262626" stroke="#262626" stroke-width="0.30">EPR Double Integral [a.u.]</text>
<text x="419.50" y="420.70" font-size="15.20" text-anchor="start" font-weight="bold" fill="#000" stroke="#000" stroke-width="0.10" >J = -150 mA cm<tspan dy="-5.6" font-size="11">-2</tspan></text>
<text x="419.50" y="435.00" font-size="15.20" text-anchor="start" font-weight="bold" fill="#000" stroke="#000" stroke-width="0.10" >[AN] = 1.0 M</text>
<rect x="546.80" y="411.80" width="23.4" height="12.4" fill="#d5d5d5" stroke="#000" stroke-width="1.5"/>
<rect x="546.80" y="434.00" width="23.4" height="12.4" fill="#1ea9b3" stroke="#000" stroke-width="1.5"/>
<rect x="546.80" y="452.30" width="23.4" height="12.4" fill="#5dbd6e" stroke="#000" stroke-width="1.5"/>
<rect x="546.80" y="470.80" width="23.4" height="12.4" fill="#134e9c" stroke="#000" stroke-width="1.5"/>
<text x="573.10" y="420.40" font-size="16.00" text-anchor="start" font-weight="normal" fill="#262626" stroke="#262626" stroke-width="0.30" >H</text>
<text x="585.40" y="427.80" font-size="12.60" text-anchor="start" font-weight="normal" fill="#262626" stroke="#262626" stroke-width="0.30" >2</text>
<text x="573.40" y="444.60" font-size="15.60" text-anchor="start" font-weight="normal" fill="#262626" stroke="#262626" stroke-width="0.30" >Trimer</text>
<text x="573.40" y="463.30" font-size="15.60" text-anchor="start" font-weight="normal" fill="#262626" stroke="#262626" stroke-width="0.30" >PN</text>
<text x="573.40" y="481.70" font-size="15.60" text-anchor="start" font-weight="normal" fill="#262626" stroke="#262626" stroke-width="0.30" >ADN</text>
</svg>
</body></html>
